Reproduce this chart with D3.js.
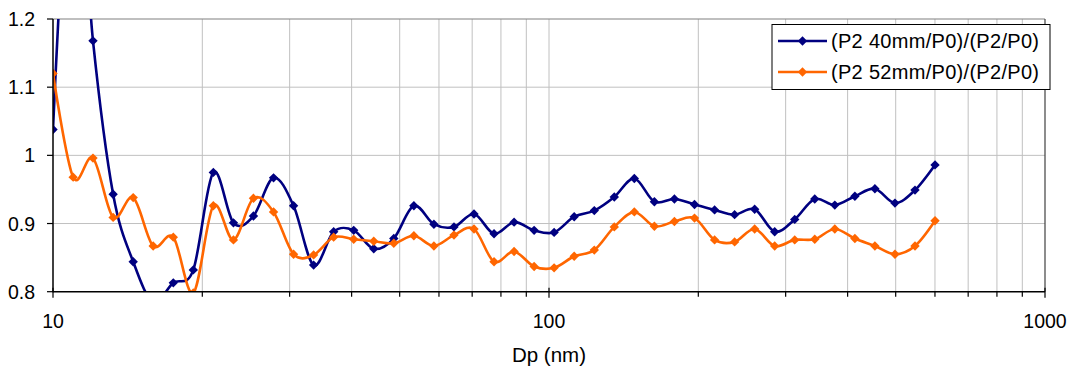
<!DOCTYPE html>
<html>
<head>
<meta charset="utf-8">
<script src="https://cdn.jsdelivr.net/npm/d3@7"></script>
<style>
  body { margin: 0; background: #fff; }
  svg { display: block; font-family: "Liberation Sans", Arial, sans-serif; }
</style>
</head>
<body>
<div id="viz"></div>
<script>
// particle diameter (nm)
const dp = [10.0, 10.98, 12.04, 13.22, 14.51, 15.92, 17.48, 19.18, 21.05, 23.11,
  25.36, 27.84, 30.55, 33.53, 36.80, 40.39, 44.33, 48.65, 53.40, 58.61,
  64.33, 70.60, 77.48, 85.04, 93.33, 102.4, 112.4, 123.4, 135.4, 148.6,
  163.1, 179.0, 196.5, 215.7, 236.7, 259.8, 285.1, 312.9, 343.4, 376.9,
  413.7, 454.0, 498.3, 546.9, 600.2];

const ratio40 = [1.038, 1.50, 1.168, 0.943, 0.844, 0.785, 0.813, 0.832, 0.975, 0.901,
  0.911, 0.967, 0.926, 0.839, 0.888, 0.890, 0.863, 0.878, 0.926, 0.899,
  0.895, 0.914, 0.885, 0.902, 0.890, 0.887, 0.910, 0.919, 0.939, 0.966,
  0.932, 0.936, 0.928, 0.920, 0.913, 0.921, 0.888, 0.906, 0.936, 0.927,
  0.940, 0.951, 0.930, 0.949, 0.986];

const ratio52 = [1.120, 0.968, 0.996, 0.909, 0.938, 0.867, 0.880, 0.798, 0.926, 0.876,
  0.937, 0.917, 0.855, 0.854, 0.880, 0.877, 0.874, 0.871, 0.882, 0.867,
  0.883, 0.892, 0.844, 0.859, 0.837, 0.835, 0.852, 0.861, 0.895, 0.917,
  0.896, 0.903, 0.908, 0.876, 0.873, 0.892, 0.867, 0.876, 0.877, 0.892,
  0.878, 0.867, 0.855, 0.867, 0.904];

const seriesNames = ["(P2 40mm/P0)/(P2/P0)", "(P2 52mm/P0)/(P2/P0)"];
const seriesColors = ["#000080", "#FF6600"];

const yTicks = [0.8, 0.9, 1, 1.1, 1.2];
const xMajor = [10, 100, 1000];
const xLabel = "Dp (nm)";

const W = 1069, H = 369;
const pLeft = 53, pRight = 1045, pTop = 19, pBottom = 291.7;

const x = d3.scaleLog().domain([10, 1000]).range([pLeft, pRight]);
const y = d3.scaleLinear().domain([0.8, 1.2]).range([pBottom, pTop]);

const svg = d3.select("#viz").append("svg")
  .attr("width", W)
  .attr("height", H);

svg.append("defs").append("clipPath").attr("id", "plotclip")
  .append("rect")
  .attr("x", pLeft).attr("y", pTop)
  .attr("width", pRight - pLeft).attr("height", pBottom - pTop);

// minor positions for gridlines / ticks
let xMinor = [];
for (let dec = 10; dec < 1000; dec *= 10) {
  for (let k = 2; k <= 9; k++) xMinor.push(dec * k);
}
const xGrid = xMinor.concat([100]);

// gridlines
svg.append("g").selectAll("line")
  .data(xGrid)
  .enter().append("line")
  .attr("x1", d => x(d)).attr("x2", d => x(d))
  .attr("y1", pTop).attr("y2", pBottom)
  .attr("stroke", "#c0c0c0").attr("stroke-width", 1);

svg.append("g").selectAll("line")
  .data(yTicks.filter(d => d > 0.8 && d < 1.2))
  .enter().append("line")
  .attr("x1", pLeft).attr("x2", pRight)
  .attr("y1", d => y(d)).attr("y2", d => y(d))
  .attr("stroke", "#c0c0c0").attr("stroke-width", 1);

// plot border top / right
svg.append("line")
  .attr("x1", pLeft).attr("x2", pRight).attr("y1", pTop).attr("y2", pTop)
  .attr("stroke", "#808080").attr("stroke-width", 1.2);
svg.append("line")
  .attr("x1", pRight).attr("x2", pRight).attr("y1", pTop).attr("y2", pBottom)
  .attr("stroke", "#404040").attr("stroke-width", 1.2);

// series
const line = d3.line()
  .x((d, i) => x(dp[i]))
  .y(d => y(d))
  .curve(d3.curveCardinal.tension(0));

const diamond = d3.symbol().type(d3.symbolSquare).size(44);

const plot = svg.append("g").attr("clip-path", "url(#plotclip)");
[ratio40, ratio52].forEach((vals, s) => {
  plot.append("path")
    .datum(vals)
    .attr("d", line)
    .attr("fill", "none")
    .attr("stroke", seriesColors[s])
    .attr("stroke-width", 2.6);
});
[ratio40, ratio52].forEach((vals, s) => {
  plot.selectAll(".m" + s)
    .data(vals)
    .enter().append("path")
    .attr("class", "m" + s)
    .attr("d", diamond)
    .attr("transform", (d, i) => `translate(${x(dp[i])},${y(d)}) rotate(45)`)
    .attr("fill", seriesColors[s]);
});

// axes
svg.append("line")
  .attr("x1", pLeft).attr("x2", pLeft).attr("y1", pTop).attr("y2", pBottom + 0.5)
  .attr("stroke", "#000").attr("stroke-width", 1.5);
svg.append("line")
  .attr("x1", pLeft).attr("x2", pRight).attr("y1", pBottom).attr("y2", pBottom)
  .attr("stroke", "#000").attr("stroke-width", 1.5);

svg.append("g").selectAll("line")
  .data(yTicks)
  .enter().append("line")
  .attr("x1", pLeft - 6).attr("x2", pLeft)
  .attr("y1", d => y(d)).attr("y2", d => y(d))
  .attr("stroke", "#000").attr("stroke-width", 1.2);

svg.append("g").selectAll("line")
  .data(xMinor)
  .enter().append("line")
  .attr("x1", d => x(d)).attr("x2", d => x(d))
  .attr("y1", pBottom).attr("y2", pBottom + 5)
  .attr("stroke", "#000").attr("stroke-width", 1.2);

svg.append("g").selectAll("line")
  .data(xMajor)
  .enter().append("line")
  .attr("x1", d => x(d)).attr("x2", d => x(d))
  .attr("y1", pBottom - 4).attr("y2", pBottom + 6)
  .attr("stroke", "#000").attr("stroke-width", 1.2);

svg.append("g").selectAll("text")
  .data(yTicks)
  .enter().append("text")
  .attr("x", 35)
  .attr("y", d => y(d) + 7)
  .attr("text-anchor", "end")
  .attr("font-size", 19.5)
  .attr("fill", "#000")
  .text(d => d);

svg.append("g").selectAll("text")
  .data(xMajor)
  .enter().append("text")
  .attr("x", d => x(d))
  .attr("y", 328)
  .attr("text-anchor", "middle")
  .attr("font-size", 19.5)
  .attr("fill", "#000")
  .text(d => d);

svg.append("text")
  .attr("x", (pLeft + pRight) / 2)
  .attr("y", 362)
  .attr("text-anchor", "middle")
  .attr("font-size", 20.5)
  .attr("fill", "#000")
  .text(xLabel);

// legend
const lg = svg.append("g");
lg.append("rect")
  .attr("x", 772).attr("y", 24.5)
  .attr("width", 278).attr("height", 65)
  .attr("fill", "#fff")
  .attr("stroke", "#000").attr("stroke-width", 1);

seriesNames.forEach((name, s) => {
  const ly = 41 + s * 31;
  lg.append("line")
    .attr("x1", 778).attr("x2", 827)
    .attr("y1", ly).attr("y2", ly)
    .attr("stroke", seriesColors[s]).attr("stroke-width", 2.6);
  lg.append("path")
    .attr("d", diamond)
    .attr("transform", `translate(802.5,${ly}) rotate(45)`)
    .attr("fill", seriesColors[s]);
  lg.append("text")
    .attr("x", 831)
    .attr("y", ly + 7)
    .attr("font-size", 20)
    .attr("textLength", 208)
    .attr("lengthAdjust", "spacing")
    .attr("fill", "#000")
    .text(name);
});
</script>
</body>
</html>
